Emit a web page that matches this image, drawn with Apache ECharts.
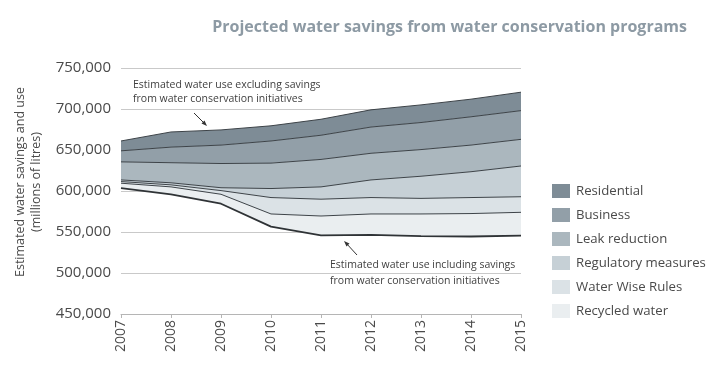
<!DOCTYPE html>
<html>
<head>
<meta charset="utf-8">
<script src="https://cdn.jsdelivr.net/npm/echarts@6/dist/echarts.min.js"></script>
<style>
html,body{margin:0;padding:0;background:#fff;}
#chart{width:720px;height:380px;}
</style>
</head>
<body>
<div id="chart"></div>
<script>
// ---- data (millions of litres) ----
var years = ['2007','2008','2009','2010','2011','2012','2013','2014','2015'];
// Estimated water use including savings from conservation initiatives
var useWithSavings = [603500, 596000, 584500, 556500, 546000, 546500, 545000, 544500, 545500];
// Savings by program (stacked above use)
var recycledWater = [6000, 9000, 11500, 15500, 23500, 25500, 27000, 28000, 28500];
var waterWiseRules = [2000, 2500, 4500, 20000, 20500, 20000, 19000, 19500, 19000];
var regulatoryMeasures = [2000, 2500, 3500, 11000, 15000, 21500, 27000, 31500, 37500];
var leakReduction = [22000, 24500, 29500, 31000, 33500, 32500, 32500, 32500, 32500];
var business = [13500, 19000, 22500, 27000, 29500, 32000, 33000, 34500, 35000];
var residential = [12000, 18500, 18500, 18500, 19500, 21000, 21500, 21500, 22500];
var yTicks = [450000, 500000, 550000, 600000, 650000, 700000, 750000];

var colors = {
  'Residential': '#7e8c96',
  'Business': '#929fa8',
  'Leak reduction': '#abb7be',
  'Regulatory measures': '#c6d0d6',
  'Water Wise Rules': '#dbe2e6',
  'Recycled water': '#eaeef0'
};

var chart = echarts.init(document.getElementById('chart'), null, {renderer: 'canvas'});

function stackSeries(name, data) {
  return {
    name: name,
    type: 'line',
    stack: 'total',
    data: data,
    symbol: 'none',
    smooth: false,
    lineStyle: {color: '#3d4348', width: 1},
    itemStyle: {color: colors[name]},
    areaStyle: {color: colors[name], opacity: 1},
    emphasis: {disabled: true},
    z: 2
  };
}

var font = '"Open Sans", "Noto Sans", sans-serif';

var option = {
  animation: false,
  textStyle: {fontFamily: font},
  title: {
    text: 'Projected water savings from water conservation programs',
    right: 28,
    top: 14,
    textStyle: {fontFamily: font, fontSize: 16, fontWeight: 'bold', color: '#8d9aa4'}
  },
  grid: {left: 121, right: 199, top: 68, bottom: 66, containLabel: false},
  legend: {
    orient: 'vertical',
    left: 547,
    top: 179,
    itemWidth: 18,
    itemHeight: 14,
    itemGap: 10,
    icon: 'rect',
    data: ['Residential', 'Business', 'Leak reduction', 'Regulatory measures', 'Water Wise Rules', 'Recycled water'],
    textStyle: {fontFamily: font, fontSize: 13.2, color: '#4a4a4a', padding: [0, 0, 0, 1]},
    selectedMode: false
  },
  xAxis: {
    type: 'category',
    data: years,
    boundaryGap: false,
    axisLine: {lineStyle: {color: '#b5b5b5', width: 1}},
    axisTick: {show: true, length: 4, lineStyle: {color: '#b5b5b5'}},
    axisLabel: {rotate: 90, fontSize: 14, color: '#4a4a4a', margin: 6, fontFamily: font},
    splitLine: {show: false}
  },
  yAxis: {
    type: 'value',
    min: yTicks[0],
    max: yTicks[yTicks.length - 1],
    interval: 50000,
    name: 'Estimated water savings and use\n(millions of litres)',
    nameLocation: 'middle',
    nameRotate: 90,
    nameGap: 67,
    nameTextStyle: {fontFamily: font, fontSize: 12.5, color: '#4a4a4a', lineHeight: 16, padding: [0, 0, 0, 18]},
    axisLine: {show: false},
    axisTick: {show: false},
    axisLabel: {
      fontSize: 15, color: '#4a4a4a', margin: 10, fontFamily: font,
      formatter: function (v) { return v.toLocaleString('en-US'); }
    },
    splitLine: {lineStyle: {color: '#c9c9c9', width: 1}}
  },
  series: [
    {
      name: 'Estimated water use including savings',
      type: 'line',
      stack: 'total',
      data: useWithSavings,
      symbol: 'none',
      lineStyle: {color: '#2f3336', width: 1.8},
      emphasis: {disabled: true},
      z: 5
    },
    stackSeries('Recycled water', recycledWater),
    stackSeries('Water Wise Rules', waterWiseRules),
    stackSeries('Regulatory measures', regulatoryMeasures),
    stackSeries('Leak reduction', leakReduction),
    stackSeries('Business', business),
    stackSeries('Residential', residential)
  ],
  graphic: [
    {
      type: 'text', left: 133, top: 78,
      style: {
        text: 'Estimated water use excluding savings\nfrom water conservation initiatives',
        fontFamily: font, fontSize: 10.5, lineHeight: 14, fill: '#3f3f3f'
      }
    },
    {
      type: 'line', shape: {x1: 194, y1: 113, x2: 205, y2: 124},
      style: {stroke: '#333', lineWidth: 1}
    },
    {
      type: 'polygon', shape: {points: [[207, 126], [201.5, 123.5], [204.5, 120.5]]},
      style: {fill: '#333'}
    },
    {
      type: 'text', left: 330, top: 257,
      style: {
        text: 'Estimated water use including savings\nfrom water conservation initiatives',
        fontFamily: font, fontSize: 10.5, lineHeight: 16, fill: '#3f3f3f'
      }
    },
    {
      type: 'line', shape: {x1: 357, y1: 255, x2: 346, y2: 243},
      style: {stroke: '#333', lineWidth: 1}
    },
    {
      type: 'polygon', shape: {points: [[344, 241], [349.5, 243.5], [346.5, 246.5]]},
      style: {fill: '#333'}
    }
  ]
};
chart.setOption(option);
</script>
</body>
</html>
